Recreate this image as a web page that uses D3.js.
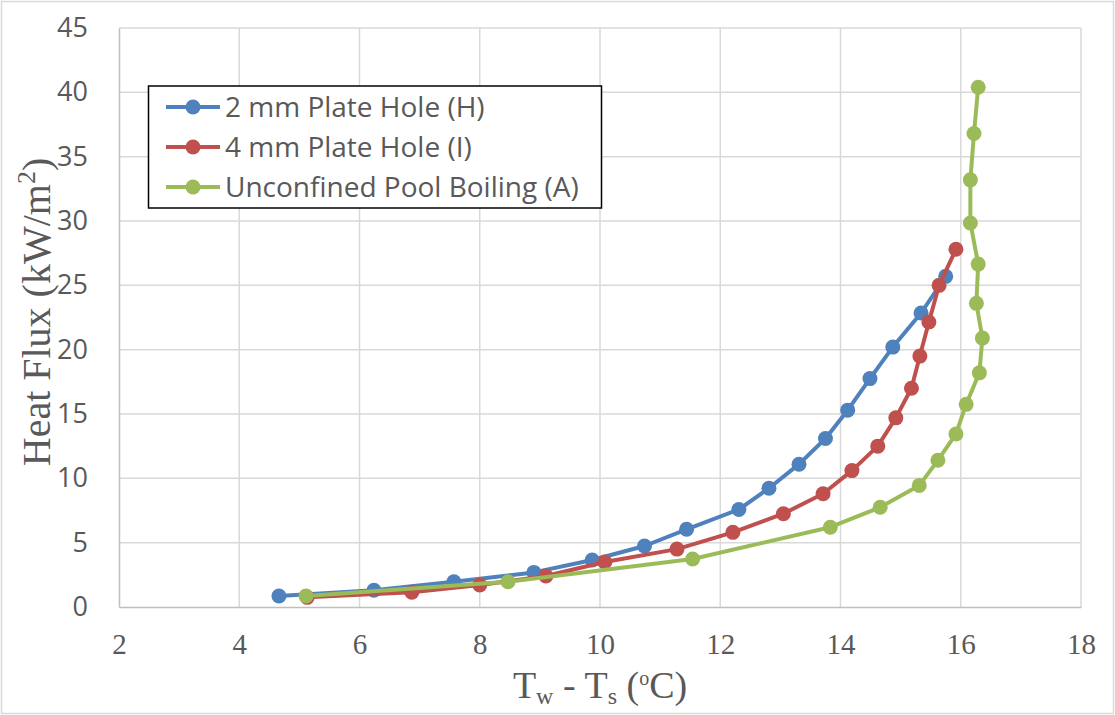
<!DOCTYPE html>
<html>
<head>
<meta charset="utf-8">
<script src="https://cdn.jsdelivr.net/npm/d3@7"></script>
<style>
  body { margin: 0; background: #fff; }
  svg { display: block; }
</style>
</head>
<body>
<svg id="chart" width="1115" height="715"></svg>
<script>
//-- DATA --\\
var seriesNames = ["2 mm Plate Hole (H)", "4 mm Plate Hole (I)", "Unconfined Pool Boiling (A)"];
var seriesColors = ["#4f81bd", "#c0504d", "#9bbb59"];

var holeH_dT = [4.66, 6.24, 7.57, 8.9, 9.87, 10.74, 11.44, 12.31, 12.81, 13.31, 13.75, 14.12, 14.49, 14.87, 15.34, 15.75];
var holeH_q  = [0.85, 1.3, 1.96, 2.69, 3.65, 4.74, 6.04, 7.58, 9.23, 11.1, 13.1, 15.3, 17.75, 20.2, 22.85, 25.7];

var holeI_dT = [5.13, 6.87, 8.0, 9.1, 10.08, 11.28, 12.21, 13.05, 13.71, 14.19, 14.62, 14.92, 15.18, 15.32, 15.47, 15.64, 15.92];
var holeI_q  = [0.75, 1.15, 1.71, 2.41, 3.5, 4.5, 5.8, 7.25, 8.8, 10.6, 12.5, 14.7, 17.0, 19.5, 22.15, 25.0, 27.8];

var poolA_dT = [5.11, 8.47, 11.54, 13.83, 14.66, 15.31, 15.62, 15.92, 16.09, 16.31, 16.36, 16.26, 16.29, 16.16, 16.16, 16.22, 16.29];
var poolA_q  = [0.85, 1.96, 3.73, 6.2, 7.75, 9.45, 11.4, 13.45, 15.75, 18.2, 20.9, 23.6, 26.65, 29.85, 33.2, 36.8, 40.4];

var xTicks = [2, 4, 6, 8, 10, 12, 14, 16, 18];
var yTicks = [0, 5, 10, 15, 20, 25, 30, 35, 40, 45];

//-- LAYOUT --\\
var width = 1115, height = 715;
var plotLeft = 119, plotRight = 1081, plotTop = 28, plotBottom = 607;
var gridCol = "#d9d9d9";
var textCol = "#595959";
var serifFont = "'Liberation Serif', 'Times New Roman', serif";
var sansFont = "'Open Sans', 'Liberation Sans', sans-serif";
var markerR = 7.5;
var lineW = 4;

var svg = d3.select("#chart");

var x = d3.scaleLinear().domain([2, 18]).range([plotLeft, plotRight]);
var y = d3.scaleLinear().domain([0, 45]).range([plotBottom, plotTop]);

// outer chart border
svg.append("rect")
    .attr("x", 1.5).attr("y", 1.5)
    .attr("width", width - 3).attr("height", height - 3)
    .attr("fill", "#fff").attr("stroke", gridCol).attr("stroke-width", 1.5);

// grid lines
svg.append("g").selectAll("line")
    .data(xTicks.slice(1))
    .join("line")
    .attr("x1", d => x(d)).attr("x2", d => x(d))
    .attr("y1", plotTop).attr("y2", plotBottom)
    .attr("stroke", gridCol).attr("stroke-width", 1.5);

svg.append("g").selectAll("line")
    .data(yTicks.slice(1))
    .join("line")
    .attr("x1", plotLeft).attr("x2", plotRight)
    .attr("y1", d => y(d)).attr("y2", d => y(d))
    .attr("stroke", gridCol).attr("stroke-width", 1.5);

// axes
var xAxis = svg.append("g")
    .attr("transform", "translate(0," + plotBottom + ")")
    .call(d3.axisBottom(x).tickValues(xTicks).tickSize(0).tickPadding(26));
xAxis.select(".domain").attr("stroke", "#bfbfbf").attr("stroke-width", 1.5);
xAxis.selectAll("text")
    .attr("font-family", serifFont)
    .attr("font-size", 29).attr("fill", textCol);

var yAxis = svg.append("g")
    .attr("transform", "translate(" + plotLeft + ",0)")
    .call(d3.axisLeft(y).tickValues(yTicks).tickSize(0).tickPadding(31));
yAxis.select(".domain").attr("stroke", "#bfbfbf").attr("stroke-width", 1.5);
yAxis.selectAll("text")
    .attr("font-family", sansFont)
    .attr("font-size", 27).attr("fill", textCol);

// axis titles
var yTitle = svg.append("text")
    .attr("transform", "translate(50,312) rotate(-90)")
    .attr("text-anchor", "middle")
    .attr("font-family", serifFont)
    .attr("font-size", 40).attr("fill", textCol);
yTitle.append("tspan").text("Heat Flux (kW/m");
yTitle.append("tspan").attr("font-size", 26).attr("dy", -15).text("2");
yTitle.append("tspan").attr("dy", 15).text(")");

var xTitle = svg.append("text")
    .attr("x", 600).attr("y", 698)
    .attr("text-anchor", "middle")
    .attr("font-family", serifFont)
    .attr("font-size", 38).attr("fill", textCol);
xTitle.append("tspan").text("T");
xTitle.append("tspan").attr("font-size", 24).attr("dy", 6).text("w");
xTitle.append("tspan").attr("dy", -6).text(" - T");
xTitle.append("tspan").attr("font-size", 24).attr("dy", 6).text("s");
xTitle.append("tspan").attr("dy", -6).text(" (");
xTitle.append("tspan").attr("font-size", 20).attr("dy", -13).text("o");
xTitle.append("tspan").attr("dy", 13).text("C)");

// series
var allSeries = [
    d3.zip(holeH_dT, holeH_q),
    d3.zip(holeI_dT, holeI_q),
    d3.zip(poolA_dT, poolA_q)
];

var line = d3.line().x(d => x(d[0])).y(d => y(d[1]));

allSeries.forEach(function (pts, i) {
    var g = svg.append("g");
    g.append("path")
        .datum(pts)
        .attr("d", line)
        .attr("fill", "none")
        .attr("stroke", seriesColors[i])
        .attr("stroke-width", lineW)
        .attr("stroke-linejoin", "round");
    g.selectAll("circle")
        .data(pts)
        .join("circle")
        .attr("cx", d => x(d[0]))
        .attr("cy", d => y(d[1]))
        .attr("r", markerR)
        .attr("fill", seriesColors[i]);
});

// legend
var legend = svg.append("g");
legend.append("rect")
    .attr("x", 148.5).attr("y", 86)
    .attr("width", 453).attr("height", 122)
    .attr("fill", "#fff").attr("stroke", "#000").attr("stroke-width", 1.5);

seriesNames.forEach(function (name, i) {
    var ly = 107 + i * 40;
    legend.append("line")
        .attr("x1", 166).attr("x2", 220)
        .attr("y1", ly).attr("y2", ly)
        .attr("stroke", seriesColors[i]).attr("stroke-width", lineW);
    legend.append("circle")
        .attr("cx", 193).attr("cy", ly).attr("r", markerR)
        .attr("fill", seriesColors[i]);
    legend.append("text")
        .attr("x", 225).attr("y", ly + 10)
        .attr("font-family", sansFont)
        .attr("font-size", 28).attr("fill", textCol)
        .text(name);
});
</script>
</body>
</html>
